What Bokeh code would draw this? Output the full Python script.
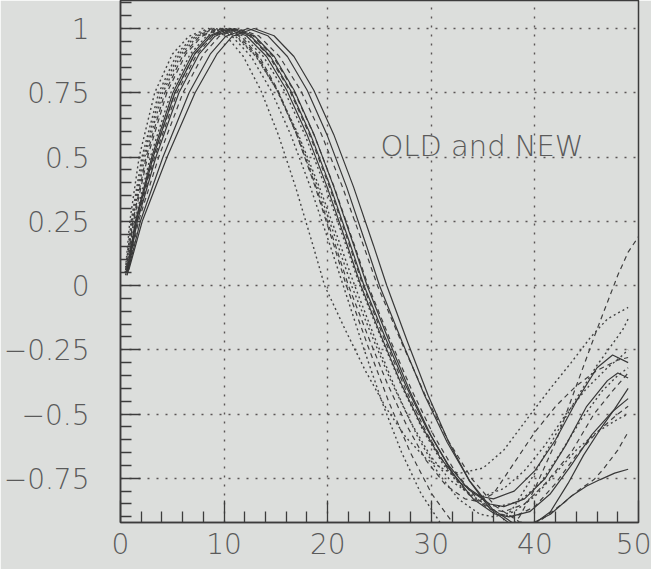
from bokeh.plotting import figure
from bokeh.models import Range1d, FixedTicker, Label
from bokeh.embed import file_html
from bokeh.resources import INLINE

# ---------------- data ----------------
X_TICKS = [0, 10, 20, 30, 40, 50]
X_LABELS = ["0", "10", "20", "30", "40", "50"]
X_MINOR = [2, 4, 6, 8, 12, 14, 16, 18, 22, 24, 26, 28, 32, 34, 36, 38, 42, 44, 46, 48]
Y_TICKS = [-0.75, -0.5, -0.25, 0, 0.25, 0.5, 0.75, 1]
Y_LABELS = ["\u22120.75", "\u22120.5", "\u22120.25", "0", "0.25", "0.5", "0.75", "1"]
Y_MINOR = [-0.9, -0.85, -0.8, -0.7, -0.65, -0.6, -0.55, -0.45, -0.4, -0.35, -0.3,
           -0.2, -0.15, -0.1, -0.05, 0.05, 0.1, 0.15, 0.2, 0.3, 0.35, 0.4, 0.45,
           0.55, 0.6, 0.65, 0.7, 0.8, 0.85, 0.9, 0.95, 1.05, 1.1]
TITLE = "OLD and NEW"

# solid curves
S1_X = [0.61, 1.44, 3.02, 5.06, 6.94, 8.49, 10.2, 12.15, 14.1, 16.05, 18.0, 19.95, 21.9, 23.2,
        25.12, 27.04, 28.96, 30.88, 32.8, 34.72, 36.0, 38, 40, 42, 44, 46, 47.5, 49]
S1_Y = [0.05, 0.25, 0.5, 0.75, 0.9, 0.97, 1.0, 0.972, 0.891, 0.76, 0.588, 0.383, 0.156, 0.0,
        -0.193, -0.377, -0.539, -0.671, -0.767, -0.82, -0.83, -0.80, -0.72, -0.60, -0.45, -0.32, -0.27, -0.30]
S2_X = [0.63, 1.5, 3.15, 5.25, 7.15, 8.7, 10.6, 12.54, 14.47, 16.41, 18.34, 20.28, 22.21, 23.5,
        25.53, 27.55, 29.58, 31.6, 33.63, 35.65, 37.0, 39, 41, 43, 45, 47, 48, 49]
S2_Y = [0.04, 0.25, 0.5, 0.75, 0.9, 0.97, 1.0, 0.972, 0.891, 0.76, 0.588, 0.383, 0.156, 0.0,
        -0.2, -0.39, -0.558, -0.696, -0.795, -0.85, -0.86, -0.83, -0.75, -0.62, -0.47, -0.37, -0.34, -0.36]
S3_X = [0.66, 1.62, 3.42, 5.64, 7.58, 9.12, 11.0, 12.92, 14.84, 16.76, 18.68, 20.6, 22.52, 23.8,
        25.86, 27.91, 29.97, 32.02, 34.08, 36.13, 37.5, 39.5, 41.5, 43.5, 45.5, 47.5, 49]
S3_Y = [0.05, 0.25, 0.5, 0.75, 0.9, 0.97, 1.0, 0.972, 0.891, 0.76, 0.588, 0.383, 0.156, 0.0,
        -0.21, -0.409, -0.584, -0.728, -0.832, -0.889, -0.9, -0.88, -0.81, -0.70, -0.58, -0.49, -0.44]
S4_X = [0.75, 1.92, 4.1, 6.62, 8.66, 10.17, 12.3, 14.21, 16.11, 18.02, 19.92, 21.83, 23.73, 25.0,
        27.18, 29.35, 31.53, 33.7, 35.88, 38.05, 39.5, 41.5, 43.2, 44.7, 46.3, 47.7, 49]
S4_Y = [0.06, 0.25, 0.5, 0.75, 0.9, 0.97, 1.0, 0.972, 0.891, 0.76, 0.588, 0.383, 0.156, 0.0,
        -0.219, -0.427, -0.61, -0.76, -0.869, -0.929, -0.94, -0.88, -0.77, -0.66, -0.56, -0.48, -0.40]
S5_X = [0.8, 2.1, 4.5, 7.2, 9.3, 10.8, 12.9, 14.82, 16.74, 18.66, 20.58, 22.5, 24.42, 25.7,
        27.7, 29.69, 31.69, 33.68, 35.68, 37.67, 39.0, 41.5, 43.5, 45.0, 46.3, 47.7, 49]
S5_Y = [0.06, 0.25, 0.5, 0.75, 0.9, 0.97, 1.0, 0.972, 0.891, 0.76, 0.588, 0.383, 0.156, 0.0,
        -0.219, -0.427, -0.61, -0.76, -0.869, -0.929, -0.94, -0.89, -0.82, -0.78, -0.755, -0.73, -0.715]

# dashed curves
D1_X = [0.56, 1.26, 2.61, 4.47, 6.29, 7.86, 9.8, 11.6, 13.4, 15.2, 17.0, 18.8, 20.6, 21.8,
        23.86, 25.91, 27.97, 30.02, 32.08, 34.13, 35.5, 37, 38.5, 40, 42, 44, 46, 48, 49, 50]
D1_Y = [0.05, 0.25, 0.5, 0.75, 0.9, 0.97, 1.0, 0.972, 0.891, 0.76, 0.588, 0.383, 0.156, 0.0,
        -0.233, -0.454, -0.649, -0.809, -0.924, -0.988, -1.0, -0.97, -0.9, -0.79, -0.61, -0.39, -0.17, 0.04, 0.13, 0.19]
D2_X = [0.7, 1.74, 3.69, 6.03, 8.01, 9.54, 11.3, 13.33, 15.35, 17.38, 19.4, 21.43, 23.45, 24.8,
        27.08, 29.36, 31.64, 33.92, 36.2, 38.48, 40.0, 42.8, 44.1, 45.7, 46.6, 48, 49]
D2_Y = [0.05, 0.25, 0.5, 0.75, 0.9, 0.97, 1.0, 0.972, 0.891, 0.76, 0.588, 0.383, 0.156, 0.0,
        -0.217, -0.422, -0.604, -0.752, -0.859, -0.919, -0.93, -0.845, -0.80, -0.755, -0.715, -0.64, -0.57]
D3_X = [0.63, 1.5, 3.15, 5.25, 7.15, 8.7, 10.5, 12.44, 14.37, 16.31, 18.24, 20.18, 22.11, 23.4,
        25.44, 27.48, 29.52, 31.56, 33.6, 35.64, 37.0, 39, 41, 43.5, 45.7, 47.5, 49]
D3_Y = [0.07, 0.25, 0.5, 0.75, 0.9, 0.97, 1.0, 0.972, 0.891, 0.76, 0.588, 0.383, 0.156, 0.0,
        -0.205, -0.4, -0.571, -0.712, -0.813, -0.869, -0.88, -0.85, -0.77, -0.65, -0.5, -0.41, -0.34]
D4_X = [0.64, 1.56, 3.29, 5.45, 7.37, 8.91, 10.8, 12.77, 14.73, 16.7, 18.66, 20.63, 22.59, 23.9,
        26.02, 28.13, 30.25, 32.36, 34.48, 36.59, 38.0, 40, 42, 44, 46, 48, 49]
D4_Y = [0.04, 0.25, 0.5, 0.75, 0.9, 0.97, 1.0, 0.972, 0.891, 0.76, 0.588, 0.383, 0.156, 0.0,
        -0.21, -0.409, -0.584, -0.728, -0.832, -0.889, -0.9, -0.86, -0.77, -0.66, -0.57, -0.5, -0.47]
D5_X = [0.54, 1.2, 2.48, 4.28, 6.08, 7.65, 9.5, 11.38, 13.25, 15.13, 17.0, 18.88, 20.75, 22.0,
        23.88, 25.75, 27.63, 29.5, 31.38, 33.25, 34.5, 36, 38, 40, 42, 44, 46, 48, 49]
D5_Y = [0.06, 0.25, 0.5, 0.75, 0.9, 0.97, 1.0, 0.972, 0.891, 0.76, 0.588, 0.383, 0.156, 0.0,
        -0.196, -0.381, -0.545, -0.68, -0.776, -0.83, -0.84, -0.81, -0.69, -0.57, -0.47, -0.39, -0.33, -0.29, -0.28]

# dotted curves
T1_X = [0.45, 0.9, 1.8, 3.3, 5.0, 6.6, 8.5, 10.18, 11.86, 13.54, 15.22, 16.9, 18.58, 19.7,
        21.67, 23.63, 25.6, 27.56, 29.53, 31.49, 32.8, 35, 37, 39.6, 41.5, 43.5, 45.4, 47, 49]
T1_Y = [0.05, 0.25, 0.5, 0.75, 0.9, 0.97, 1.0, 0.972, 0.891, 0.76, 0.588, 0.383, 0.156, 0.0,
        -0.17, -0.331, -0.474, -0.591, -0.675, -0.721, -0.73, -0.71, -0.64, -0.5, -0.4, -0.3, -0.2, -0.13, -0.085]
T2_X = [0.49, 1.02, 2.07, 3.69, 5.43, 7.02, 8.8, 10.71, 12.61, 14.52, 16.42, 18.33, 20.23, 21.5,
        23.38, 25.25, 27.13, 29.0, 30.88, 32.75, 34.0, 36, 38, 40, 42, 44, 46, 47.8, 48.5, 49]
T2_Y = [0.04, 0.25, 0.5, 0.75, 0.9, 0.97, 1.0, 0.972, 0.891, 0.76, 0.588, 0.383, 0.156, 0.0,
        -0.233, -0.454, -0.649, -0.809, -0.924, -0.988, -1.0, -0.96, -0.86, -0.73, -0.58, -0.44, -0.31, -0.21, -0.17, -0.13]
T3_X = [0.52, 1.14, 2.34, 4.08, 5.86, 7.44, 9.0, 11.04, 13.08, 15.12, 17.16, 19.2, 21.24, 22.6,
        24.61, 26.62, 28.63, 30.64, 32.65, 34.66, 36.0, 38, 40, 42, 44, 46, 48, 49]
T3_Y = [0.08, 0.25, 0.5, 0.75, 0.9, 0.97, 1.0, 0.972, 0.891, 0.76, 0.588, 0.383, 0.156, 0.0,
        -0.21, -0.409, -0.584, -0.728, -0.832, -0.889, -0.9, -0.88, -0.82, -0.73, -0.64, -0.57, -0.52, -0.5]
T4_X = [0.59, 1.38, 2.88, 4.86, 6.72, 8.28, 9.8, 11.8, 13.79, 15.79, 17.78, 19.78, 21.77, 23.1,
        25.11, 27.12, 29.13, 31.14, 33.15, 35.16, 36.5, 38.5, 40.5, 42.5, 44.5, 46.5, 48, 49]
T4_Y = [0.05, 0.25, 0.5, 0.75, 0.9, 0.97, 1.0, 0.972, 0.891, 0.76, 0.588, 0.383, 0.156, 0.0,
        -0.2, -0.39, -0.558, -0.696, -0.795, -0.85, -0.86, -0.84, -0.77, -0.65, -0.52, -0.41, -0.35, -0.32]
T5_X = [0.5, 1.08, 2.21, 3.89, 5.65, 7.23, 9.2, 11.17, 13.13, 15.1, 17.06, 19.03, 20.99, 22.3,
        24.21, 26.11, 28.02, 29.92, 31.83, 33.73, 35.0, 37, 39, 41, 43, 45, 47, 48.5, 49]
T5_Y = [0.06, 0.25, 0.5, 0.75, 0.9, 0.97, 1.0, 0.972, 0.891, 0.76, 0.588, 0.383, 0.156, 0.0,
        -0.191, -0.372, -0.532, -0.663, -0.758, -0.81, -0.82, -0.79, -0.72, -0.62, -0.5, -0.4, -0.32, -0.27, -0.25]

SOLID = [(S1_X, S1_Y), (S2_X, S2_Y), (S3_X, S3_Y), (S4_X, S4_Y), (S5_X, S5_Y)]
DASHED = [(D1_X, D1_Y), (D2_X, D2_Y), (D3_X, D3_Y), (D4_X, D4_Y), (D5_X, D5_Y)]
DOTTED = [(T1_X, T1_Y), (T2_X, T2_Y), (T3_X, T3_Y), (T4_X, T4_Y), (T5_X, T5_Y)]

# ---------------- styling / layout ----------------
BG = "#dcdedc"
INK = "#3c3c3c"
TXT = "#5a5a5a"
FONT = "'DejaVu Sans Light', 'DejaVu Sans'"
FRAME_H = 522
BOTTOM = 47            # room for the x tick labels (label box ~37 px + 10 px standoff)
OVERHANG = 9           # the empty lower part of the label box may hang past the window
Y_MIN, Y_MAX = -0.922, 1.109
PX_PER_Y = FRAME_H / (Y_MAX - Y_MIN)
TITLE_X, TITLE_Y = 25.1, 0.5 + 11 / PX_PER_Y

p = figure(width=651, height=FRAME_H + BOTTOM, output_backend="svg", toolbar_location=None,
           x_range=Range1d(0, 50), y_range=Range1d(Y_MIN, Y_MAX),
           min_border_left=120, min_border_right=13, min_border_top=0,
           min_border_bottom=BOTTOM)
p.margin = (0, 0, -OVERHANG, 0)
p.background_fill_color = BG
p.border_fill_color = BG
p.outline_line_color = INK
p.outline_line_width = 1.5

for ax, ticks, minor, tin in ((p.xaxis[0], X_TICKS, X_MINOR, 22),
                              (p.yaxis[0], Y_TICKS, Y_MINOR, 20)):
    ax.ticker = FixedTicker(ticks=ticks, minor_ticks=minor)
    ax.major_tick_in = tin
    ax.major_tick_out = 0
    ax.minor_tick_in = 11
    ax.minor_tick_out = 0
    ax.axis_line_color = INK
    ax.axis_line_width = 1.5
    ax.major_tick_line_color = INK
    ax.major_tick_line_width = 1.3
    ax.minor_tick_line_color = INK
    ax.minor_tick_line_width = 1.3
    ax.major_label_text_font = FONT
    ax.major_label_text_font_size = "28px"
    ax.major_label_text_color = TXT

p.xaxis.major_label_overrides = dict(zip(X_TICKS, X_LABELS))
p.xaxis.major_label_standoff = 10
p.yaxis.major_label_overrides = dict(zip(Y_TICKS, Y_LABELS))
p.yaxis.major_label_standoff = 31

p.xgrid.ticker = FixedTicker(ticks=X_TICKS[1:-1])
p.ygrid.ticker = FixedTicker(ticks=Y_TICKS)
for g in (p.xgrid[0], p.ygrid[0]):
    g.grid_line_color = "#5a5555"
    g.grid_line_dash = "2 7"
    g.grid_line_width = 1.4

for xs, ys in DOTTED:
    assert len(xs) == len(ys)
    p.line(xs, ys, line_color="#444444", line_width=1.4, line_dash="2 3")
for xs, ys in DASHED:
    assert len(xs) == len(ys)
    p.line(xs, ys, line_color="#404040", line_width=1.2, line_dash="5 4")
for xs, ys in SOLID:
    assert len(xs) == len(ys)
    p.line(xs, ys, line_color="#383838", line_width=1.2)

p.add_layout(Label(x=TITLE_X, y=TITLE_Y, text=TITLE, text_font=FONT, text_font_size="29px",
                   text_color=TXT, text_baseline="middle"))

open("out.html", "w").write(file_html(p, INLINE))
